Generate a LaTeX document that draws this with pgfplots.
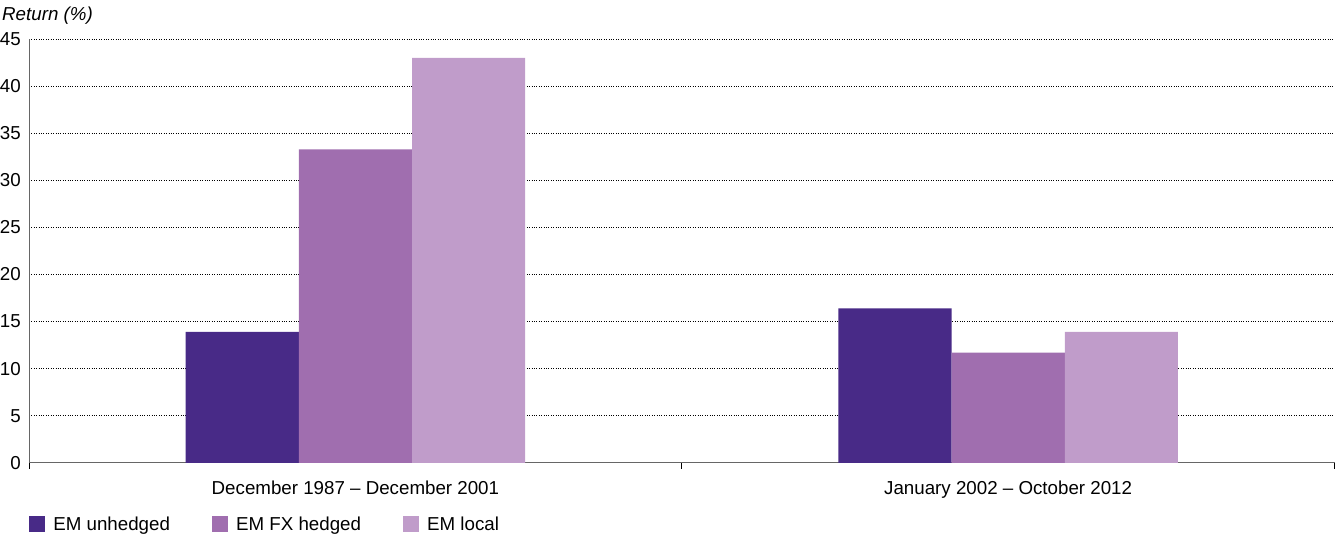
\documentclass[border=0pt]{standalone}
\usepackage{pgfplots}
\pgfplotsset{compat=1.18}
\usepackage{fontspec}
\setmainfont{Liberation Sans}
\definecolor{cA}{HTML}{482A87}
\definecolor{cB}{HTML}{A06EAF}
\definecolor{cC}{HTML}{C09CCA}
\begin{document}
\fontsize{18.7}{22}\selectfont
\begin{tikzpicture}
\begin{axis}[
  scale only axis,
  width=1303pt, height=423pt,
  ybar=0pt, bar width=113pt,
  xmin=-0.5, xmax=1.5,
  ymin=0, ymax=45,
  ytick={0,5,...,45},
  xtick={0,1},
  xticklabels={December 1987 -- December 2001, January 2002 -- October 2012},
  minor xtick={-0.5,0.5,1.5},
  major x tick style={draw=none},
  minor tick length=6pt,
  major tick length=0pt,
  tick align=outside,
  axis x line*=bottom, axis y line*=left,
  axis line style={gray!80!black, line width=1pt},
  ymajorgrids, grid style={black, dotted, line width=0.9pt},
  minor x tick style={black, line width=1pt},
  tick label style={font=\fontsize{18.7}{22}\selectfont},
  /pgf/number format/assume math mode=true,
  yticklabel style={inner sep=0pt, xshift=-8pt},
  xticklabel style={yshift=-12pt},
  ylabel={\itshape Return (\%)},
  ylabel style={rotate=-90, at={(rel axis cs:0,1)}, anchor=base west, xshift=-27pt, yshift=19pt, inner sep=0pt},
  legend columns=3,
  legend style={draw=none, at={(0,0)}, anchor=north west, yshift=-52pt, inner sep=0pt, font=\fontsize{18.7}{22}\selectfont,
    /tikz/every odd column/.append style={column sep=6pt},
    /tikz/every even column/.append style={column sep=40pt}},
  legend image code/.code={\fill[#1] (0pt,-7pt) rectangle (16pt,9pt);},
  legend cell align=left,
  clip=false,
]
\addplot[fill=cA, draw=none] coordinates {(0,13.9) (1,16.4)};
\addplot[fill=cB, draw=none] coordinates {(0,33.3) (1,11.7)};
\addplot[fill=cC, draw=none] coordinates {(0,43.0) (1,13.9)};
\legend{EM unhedged, EM FX hedged, EM local}
\path (rel axis cs:0,1) ++(0pt,39pt) coordinate (topbb);
\path (topbb) -- ++(1pt,0pt);
\end{axis}
\end{tikzpicture}
\end{document}
